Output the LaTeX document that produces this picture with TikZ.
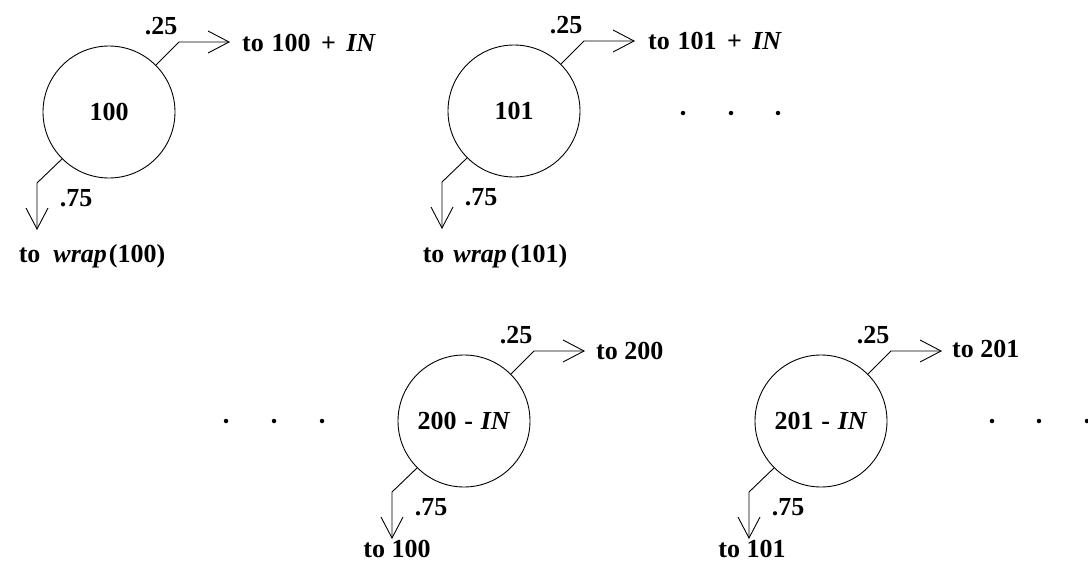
\documentclass[tikz,border=0pt]{standalone}
\usepackage{fontspec}
\setmainfont{Liberation Serif}
\usetikzlibrary{arrows.meta,calc}
\newcommand\dgmfont{\fontsize{26}{31}\selectfont\bfseries}
\begin{document}
\begin{tikzpicture}[x=1pt,y=-1pt,
  state/.style={circle,draw,line width=0.9pt,minimum size=132pt,inner sep=0pt,font=\dgmfont},
  conn/.style={line width=0.9pt,-{Straight Barb[length=21pt,width=22pt,line width=0.9pt]}},
  lbl/.style={font=\dgmfont,inner sep=0pt},
  dotnode/.style={circle,fill,inner sep=0pt,minimum size=4.5pt}]
\useasboundingbox (0,0) rectangle (1088,573);

% states
\node[state] (A) at (109,112) {100};
\node[state] (B) at (514,111) {101};
\node[state] (C) at (464,421) {200\hspace{.3em}-\hspace{.3em}\textit{IN}};
\node[state] (D) at (821,421) {201\hspace{.3em}-\hspace{.3em}\textit{IN}};

% connector coordinates
\foreach \n in {A,B,C,D}{
  \coordinate (\n-ub) at ($(\n)+(70,-70)$);
  \coordinate (\n-ut) at ($(\n)+(121,-70)$);
  \coordinate (\n-lb) at ($(\n)+(-72,71)$);
  \coordinate (\n-lt) at ($(\n)+(-72,118)$);
  \draw[conn] (\n.45) -- (\n-ub) -- (\n-ut);
  \draw[conn] (\n.225) -- (\n-lb) -- (\n-lt);
  \node[lbl] (\n-p25) at ($(\n)+(52,-86)$) {.25};
  \node[lbl] (\n-p75) at ($(\n)+(-33,86)$) {.75};
}

% upper targets
\node[lbl,anchor=base west] (Aup) at ($(A-ut)+(12,9)$) {to\hspace{.3em}100\hspace{.4em}+\hspace{.4em}\textit{IN}};
\node[lbl,anchor=base west] (Bup) at ($(B-ut)+(13,8)$) {to\hspace{.3em}101\hspace{.4em}+\hspace{.4em}\textit{IN}};
\node[lbl,anchor=base west] (Cup) at ($(C-ut)+(11,8)$) {to 200};
\node[lbl,anchor=base west] (Dup) at ($(D-ut)+(10,6)$) {to 201};

% lower targets
\node[lbl,anchor=base] (Alo) at (92,262) {to\hspace{13pt}\textit{wrap}\hspace{2pt}(100)};
\node[lbl,anchor=base] (Blo) at (495,262) {to\hspace{9pt}\textit{wrap}\hspace{4pt}(101)};
\node[lbl,anchor=base] (Clo) at (397,557) {to 100};
\node[lbl,anchor=base] (Dlo) at (752,557) {to 101};

% ellipsis dots
\node[dotnode] (t1) at (683,113) {};
\node[dotnode] (t2) at (731,113) {};
\node[dotnode] (t3) at (778,113) {};
\node[dotnode] (l1) at (226,421) {};
\node[dotnode] (l2) at (274,421) {};
\node[dotnode] (l3) at (322,421) {};
\node[dotnode] (r1) at (992,421) {};
\node[dotnode] (r2) at (1039,421) {};
\node[dotnode] (r3) at (1087,421) {};
\end{tikzpicture}
\end{document}
